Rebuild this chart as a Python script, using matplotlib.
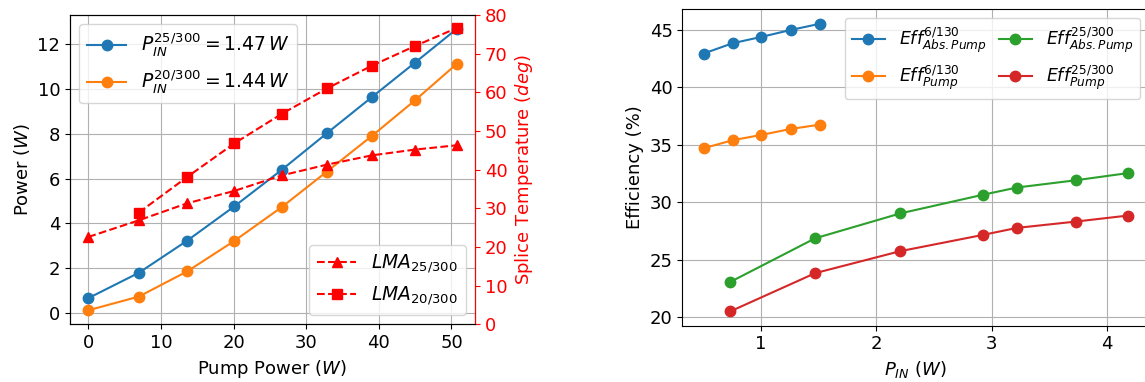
import matplotlib
matplotlib.use('Agg')
import matplotlib.pyplot as plt

# left panel: output power and splice temperature vs pump power
pump_power = [0, 6.95, 13.6, 20.1, 26.6, 32.85, 39.05, 45.0, 50.7]
power_25 = [0.67, 1.80, 3.23, 4.76, 6.38, 8.02, 9.63, 11.17, 12.66]
power_20 = [0.13, 0.74, 1.86, 3.22, 4.72, 6.31, 7.90, 9.49, 11.10]

temp_25 = [22.6, 26.9, 31.3, 34.5, 38.5, 41.3, 43.7, 45.2, 46.3]
pump_power_20 = [6.95, 13.6, 20.1, 26.6, 32.85, 39.05, 45.0, 50.7]
temp_20 = [28.9, 38.1, 46.8, 54.4, 61.0, 66.9, 72.0, 76.6]

# right panel: efficiency vs input power
pin_6 = [0.505, 0.757, 1.006, 1.26, 1.517]
eff_abs_6 = [42.92, 43.82, 44.37, 44.97, 45.52]
eff_pump_6 = [34.69, 35.39, 35.85, 36.37, 36.75]

pin_25 = [0.738, 1.473, 2.21, 2.925, 3.22, 3.73, 4.18]
eff_abs_25 = [23.08, 26.87, 29.03, 30.65, 31.28, 31.91, 32.53]
eff_pump_25 = [20.52, 23.84, 25.75, 27.16, 27.77, 28.32, 28.84]

plt.rcParams['font.size'] = 13

fig = plt.figure(figsize=(11.45, 3.82), dpi=100)

ax1 = fig.add_axes([0.0611, 0.151, 0.3537, 0.8097])
ax1.plot(pump_power, power_25, 'o-', color='C0', ms=7.5, lw=1.5, label=r'$P_{IN}^{25/300} = 1.47\,W$')
ax1.plot(pump_power, power_20, 'o-', color='C1', ms=7.5, lw=1.5, label=r'$P_{IN}^{20/300} = 1.44\,W$')
ax1.set_xlabel('Pump Power ($W$)')
ax1.set_ylabel('Power ($W$)')
ax1.set_yticks([0, 2, 4, 6, 8, 10, 12])
ax1.grid()
ax1.legend(loc='upper left', fontsize=13.5, handlelength=2.1)

ax2 = ax1.twinx()
ax2.plot(pump_power, temp_25, 'r^--', ms=7, lw=1.5, label=r'$LMA_{25/300}$')
ax2.plot(pump_power_20, temp_20, 'rs--', ms=7, lw=1.5, label=r'$LMA_{20/300}$')
ax2.set_ylim(0, 80)
ax2.set_ylabel('Splice Temperature ($deg$)', color='r')
ax2.tick_params(axis='y', colors='r')
ax2.spines['right'].set_color('r')
ax2.legend(loc='lower right', fontsize=13.5, handlelength=2.1)

ax3 = fig.add_axes([0.5959, 0.1474, 0.4076, 0.8283])
ax3.plot(pin_6, eff_abs_6, 'o-', color='C0', ms=7.5, lw=1.5, label=r'$Eff^{6/130}_{Abs.Pump}$')
ax3.plot(pin_6, eff_pump_6, 'o-', color='C1', ms=7.5, lw=1.5, label=r'$Eff^{6/130}_{Pump}$')
ax3.plot(pin_25, eff_abs_25, 'o-', color='C2', ms=7.5, lw=1.5, label=r'$Eff^{25/300}_{Abs.Pump}$')
ax3.plot(pin_25, eff_pump_25, 'o-', color='C3', ms=7.5, lw=1.5, label=r'$Eff^{25/300}_{Pump}$')
ax3.set_xlabel('$P_{IN}$ ($W$)')
ax3.set_ylabel('Efficiency (%)')
ax3.set_xticks([1, 2, 3, 4])
ax3.grid()
ax3.legend(loc='upper right', ncol=2, fontsize=12.5, handlelength=1.9, columnspacing=0.7)

fig.savefig('out.png', dpi=100)
